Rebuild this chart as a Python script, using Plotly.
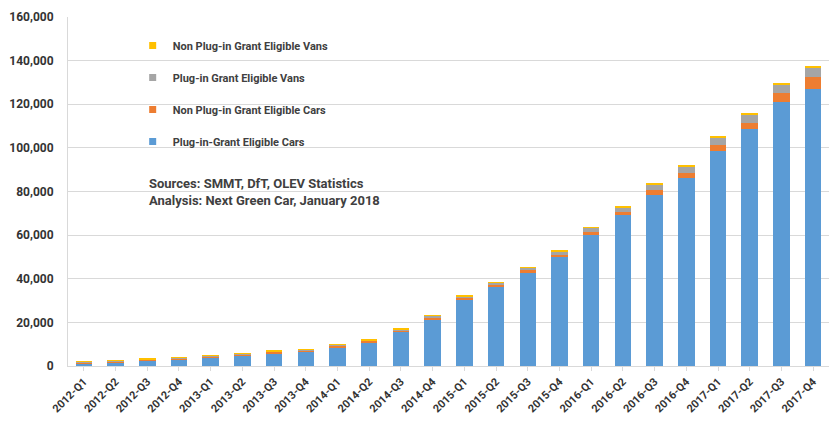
import plotly.graph_objects as go

quarters = ["2012-Q1", "2012-Q2", "2012-Q3", "2012-Q4", "2013-Q1", "2013-Q2", "2013-Q3", "2013-Q4",
            "2014-Q1", "2014-Q2", "2014-Q3", "2014-Q4", "2015-Q1", "2015-Q2", "2015-Q3", "2015-Q4",
            "2016-Q1", "2016-Q2", "2016-Q3", "2016-Q4", "2017-Q1", "2017-Q2", "2017-Q3", "2017-Q4"]

plugin_cars = [1300, 1700, 2500, 3100, 4000, 4800, 5900, 6700, 8700, 10800, 15600, 21500,
               30500, 36300, 42800, 49900, 60000, 69000, 78400, 86000, 98700, 108500, 121200, 127000]
non_plugin_cars = [500, 500, 500, 500, 550, 550, 600, 600, 650, 700, 800, 850,
                   800, 1000, 1100, 1200, 1500, 1800, 2300, 2300, 2600, 3000, 3800, 5500]
plugin_vans = [100, 150, 150, 200, 200, 250, 300, 300, 350, 400, 500, 600,
               600, 1000, 1200, 1500, 1800, 2000, 2700, 3300, 3300, 3800, 4000, 4500]
non_plugin_vans = [100, 100, 100, 100, 100, 100, 100, 100, 150, 150, 150, 200,
                   200, 200, 250, 300, 300, 350, 400, 400, 400, 450, 450, 500]

series = [
    ("Plug-in-Grant Eligible Cars", plugin_cars, "#5B9BD5"),
    ("Non Plug-in Grant Eligible Cars", non_plugin_cars, "#ED7D31"),
    ("Plug-in Grant Eligible Vans", plugin_vans, "#A5A5A5"),
    ("Non Plug-in Grant Eligible Vans", non_plugin_vans, "#FFC000"),
]

FONT = "Roboto, sans-serif"
TXT = "#404040"

fig = go.Figure()
for i, (name, vals, col) in enumerate(series):
    fig.add_trace(go.Bar(x=quarters, y=vals, name=name, marker_color=col,
                         marker_line_width=0, showlegend=False, legendgroup=str(i)))
# legend entries with small square swatches (as in the original)
for i, (name, vals, col) in enumerate(series):
    fig.add_trace(go.Scatter(x=[None], y=[None], mode="markers", name="<b>" + name + "</b>",
                             marker=dict(symbol="square", size=7, color=col),
                             legendgroup=str(i), legendrank=100 - i, hoverinfo="skip"))

fig.update_layout(
    barmode="stack",
    bargap=0.48,
    width=829, height=423,
    margin=dict(l=68, r=0, t=17, b=57),
    paper_bgcolor="white", plot_bgcolor="white",
    font=dict(family=FONT, color="#333333"),
    legend=dict(x=0.085, y=0.96, xanchor="left", yanchor="top",
                traceorder="grouped", tracegroupgap=13,
                bgcolor="rgba(0,0,0,0)",
                font=dict(size=11, family=FONT, color=TXT)),
    annotations=[
        dict(text="<b>Sources: SMMT, DfT, OLEV Statistics</b>", x=0.104, y=0.5215,
             xref="paper", yref="paper", xanchor="left", yanchor="middle", showarrow=False,
             font=dict(size=13, family=FONT, color=TXT)),
        dict(text="<b>Analysis: Next Green Car, January 2018</b>", x=0.104, y=0.473,
             xref="paper", yref="paper", xanchor="left", yanchor="middle", showarrow=False,
             font=dict(size=13, family=FONT, color=TXT)),
    ],
)

fig.update_xaxes(tickangle=-45, tickfont=dict(size=11, family=FONT, color="#333333", weight="bold"),
                 showline=True, linecolor="#D9D9D9", ticks="outside", ticklen=4, tickcolor="#D9D9D9",
                 showgrid=False)
fig.update_yaxes(range=[0, 160000], dtick=20000, tickformat=",",
                 tickfont=dict(size=12, family=FONT, color="#333333", weight="bold"),
                 showgrid=True, gridcolor="#D9D9D9", gridwidth=1,
                 showline=True, linecolor="#D9D9D9", zeroline=False, ticklabelstandoff=11)

fig.write_html("out.html", config={"displayModeBar": False},
               post_script="document.body.style.margin='0';")
